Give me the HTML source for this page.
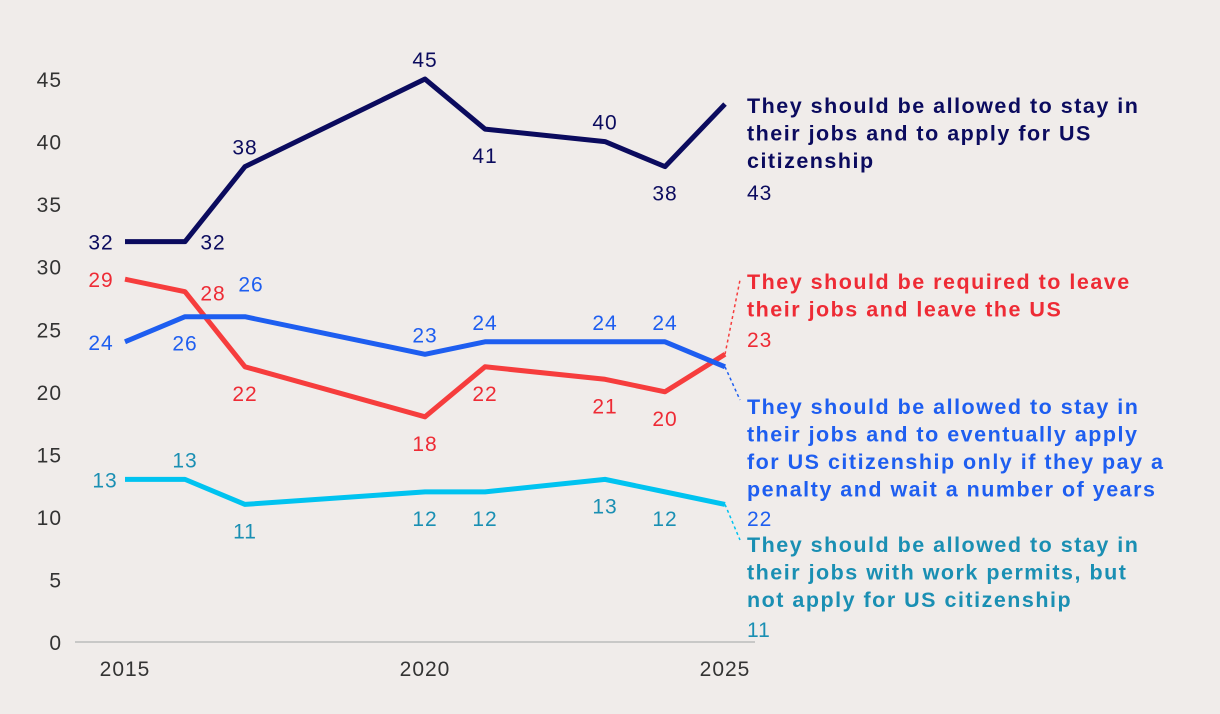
<!DOCTYPE html>
<html><head><meta charset="utf-8"><style>
body{margin:0;background:#f0ecea;}
svg{display:block;font-family:"Liberation Sans",sans-serif;}
</style></head><body>
<svg id="chart" width="1220" height="714"></svg>
<script>
const years=[2015,2016,2017,2020,2021,2023,2024,2025];
const navyVals=[32,32,38,45,41,40,38,43];
const redVals=[29,28,22,18,22,21,20,23];
const blueVals=[24,26,26,23,24,24,24,22];
const cyanVals=[13,13,11,12,12,13,12,11];
const yTicks=[0,5,10,15,20,25,30,35,40,45];
const xTicks=[2015,2020,2025];
const NS='http://www.w3.org/2000/svg';
const svg=document.getElementById('chart');
const x=y=>125+(y-2015)*60;
const yS=v=>642-v*12.51;
function el(t,a,txt){const e=document.createElementNS(NS,t);for(const k in a)e.setAttribute(k,a[k]);if(txt!==undefined)e.textContent=txt;svg.appendChild(e);return e;}
yTicks.forEach(t=>{const e=el('text',{x:62,y:yS(t)+8,'text-anchor':'end','font-size':21,fill:'#333','letter-spacing':1},t);

});
const ax=el('line',{x1:75,x2:755,y1:642,y2:642,stroke:'#bbb','stroke-width':1.5});


xTicks.forEach(t=>{const e=el('text',{x:x(t),y:676,'text-anchor':'middle','font-size':21,fill:'#333','letter-spacing':1},t);

});
const series=[
 {name:'navy',vals:navyVals,line:'#0b0b5e',txt:'#0b0b5e',off:[[-24,8],[28,8],[0,-12],[0,-12],[0,34],[0,-12],[0,34]],
  legend:['They should be allowed to stay in','their jobs and to apply for US','citizenship'],ly:113,vy:200,dot:null},
 {name:'red',vals:redVals,line:'#f63d3d',txt:'#ee2b35',off:[[-24,8],[28,9],[0,34],[0,34],[0,34],[0,34],[0,34]],
  legend:['They should be required to leave','their jobs and leave the US'],ly:289,vy:347,dot:[740,280]},
 {name:'blue',vals:blueVals,line:'#1e5ef0',txt:'#1e5ef0',off:[[-24,8],[0,34],[6,-25],[0,-12],[0,-12],[0,-12],[0,-12]],
  legend:['They should be allowed to stay in','their jobs and to eventually apply','for US citizenship only if they pay a','penalty and wait a number of years'],ly:414,vy:526,dot:[740,400]},
 {name:'cyan',vals:cyanVals,line:'#00c3f0',txt:'#1a8fb3',off:[[-20,8],[0,-12],[0,34],[0,34],[0,34],[0,34],[0,34]],
  legend:['They should be allowed to stay in','their jobs with work permits, but','not apply for US citizenship'],ly:552,vy:637,dot:[740,540]}
];
series.forEach(s=>{
 const p=el('polyline',{points:years.map((yr,i)=>x(yr)+','+yS(s.vals[i])).join(' '),fill:'none',stroke:s.line,'stroke-width':5,'stroke-linejoin':'round'});
 
 
 s.vals.slice(0,7).forEach((v,i)=>{const t=el('text',{x:x(years[i])+s.off[i][0],y:yS(v)+s.off[i][1],'text-anchor':'middle','font-size':21,fill:s.txt,'letter-spacing':1},v);
  
  });
 const last=s.vals[7];
 if(s.dot){const d=el('line',{x1:x(2025),y1:yS(last),x2:s.dot[0],y2:s.dot[1],stroke:s.line,'stroke-width':1.5,'stroke-dasharray':'3,3'});
  
  }
 s.legend.forEach((ln,j)=>{const t=el('text',{x:747,y:s.ly+j*27.5,'font-size':21.5,'font-weight':'bold',fill:s.txt,'letter-spacing':1.5},ln);
  
  });
 const v=el('text',{x:747,y:s.vy,'font-size':21,fill:s.txt,'letter-spacing':1},last);
 
 
});
</script>
</body></html>
